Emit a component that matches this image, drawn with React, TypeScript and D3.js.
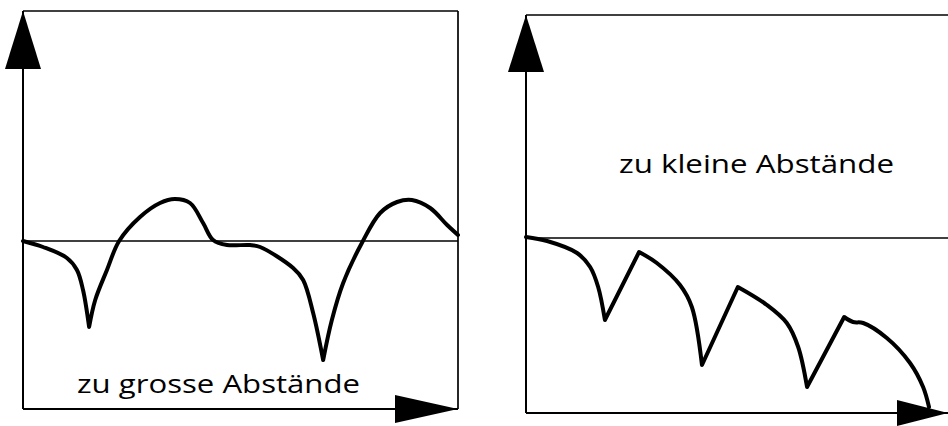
import React from "react";
import * as d3 from "d3";

// ---- data (arbitrary units: x 0..100 per panel, y relative to zero line) ----
// Left panel: "zu grosse Abstände" — smooth segments joined at cusps
const leftSeg1: [number, number][] = [
  [0, 0], [4.6, -0.6], [10.1, -1.7], [12.4, -2.9], [13.8, -4.9], [15.2, -8.6],
];
const leftSeg2: [number, number][] = [
  [15.2, -8.6], [16.6, -5.9], [19.3, -2.9], [22.1, 0], [26.9, 2.4], [31.5, 3.8],
  [34.9, 4.2], [38.4, 3.8], [41.4, 1.8], [43.7, 0.1], [46.9, -0.4], [52.2, -0.4],
  [54.5, -0.6], [62.1, -2.7], [64.4, -3.9], [66.7, -7.2], [69.0, -11.9],
];
const leftSeg3: [number, number][] = [
  [69.0, -11.9], [71.0, -7.9], [73.6, -4.2], [77.9, -0.2], [82.1, 2.8], [86.0, 3.9],
  [89.4, 4.1], [93.6, 3.3], [97.5, 1.6], [100, 0.6],
];
// Right panel: "zu kleine Abstände" — smooth decays joined by straight rises
const rightSegA: [number, number][] = [
  [0, 0.1], [5.0, -0.3], [12.1, -1.5], [15.2, -2.9], [17.1, -4.9], [18.7, -8.2],
];
const rightSegB: [number, number][] = [
  [26.8, -1.4], [31.0, -2.5], [36.5, -4.7], [39.3, -6.9], [41.7, -12.7],
];
const rightSegC: [number, number][] = [
  [50.2, -4.9], [57.1, -6.7], [61.8, -8.5], [64.5, -10.9], [66.6, -14.9],
];
const rightSegD: [number, number][] = [
  [75.4, -7.9], [77.5, -8.4], [79.9, -8.5], [85.5, -10.0], [91.0, -12.5],
  [94.1, -14.9], [95.5, -16.9],
];
const leftLabel = "zu grosse Abstände";
const rightLabel = "zu kleine Abstände";

const FONT = "'Open Sans', 'DejaVu Sans', sans-serif";

function buildPath(segs: [number, number][][], x: any, y: any): string {
  const gen = d3
    .line<[number, number]>()
    .x((d) => x(d[0]))
    .y((d) => y(d[1]))
    .curve(d3.curveCatmullRom.alpha(0.5));
  return segs
    .map((s, i) => {
      const d = gen(s) || "";
      return i === 0 ? d : "L" + d.slice(1);
    })
    .join("");
}

function Panel(props: {
  left: number; right: number; top: number; bottom: number; zero: number;
  segs: [number, number][][]; label: string; labelX: number; labelY: number;
  labelW: number; rightBorder: boolean; upHalf: number; upLen: number;
  rHalf: number; rLen: number;
}) {
  const { left, right, top, bottom, zero, segs, label, labelX, labelY, labelW } = props;
  const x = d3.scaleLinear().domain([0, 100]).range([left, right]);
  const y = d3.scaleLinear().domain([0, -10]).range([zero, zero + 100]);
  const d = buildPath(segs, x, y);
  return (
    <g>
      {/* frame */}
      <line x1={left} y1={top} x2={right} y2={top} stroke="#000" strokeWidth={1.7} />
      {props.rightBorder && (
        <line x1={right} y1={top} x2={right} y2={bottom} stroke="#000" strokeWidth={1.7} />
      )}
      <line x1={left} y1={top} x2={left} y2={bottom} stroke="#000" strokeWidth={2} />
      <line x1={left} y1={bottom} x2={right} y2={bottom} stroke="#000" strokeWidth={2} />
      {/* zero line */}
      <line x1={left} y1={y(0)} x2={right} y2={y(0)} stroke="#000" strokeWidth={1.5} />
      {/* arrows */}
      <path
        d={`M${left},${top}L${left - props.upHalf},${top + props.upLen}L${left + props.upHalf},${top + props.upLen}Z`}
        fill="#000"
      />
      <path
        d={`M${right},${bottom}L${right - props.rLen},${bottom - props.rHalf}L${right - props.rLen},${bottom + props.rHalf}Z`}
        fill="#000"
      />
      {/* curve */}
      <path d={d} fill="none" stroke="#000" strokeWidth={4} strokeLinejoin="round" strokeLinecap="round" />
      <text
        x={labelX}
        y={labelY}
        fontFamily={FONT}
        fontSize={26}
        textLength={labelW}
        lengthAdjust="spacingAndGlyphs"
        fill="#000"
      >
        {label}
      </text>
    </g>
  );
}

export default function App() {
  return (
    <svg
      width={948}
      height={426}
      viewBox="0 0 948 426"
      style={{ position: "absolute", left: 0, top: 0, background: "#fff" }}
    >
      <rect width={948} height={426} fill="#fff" />
      <Panel
        left={23} right={458} top={11} bottom={409} zero={241}
        segs={[leftSeg1, leftSeg2, leftSeg3]}
        label={leftLabel} labelX={77} labelY={393} labelW={283}
        rightBorder={true} upHalf={18} upLen={58} rHalf={14} rLen={63}
      />
      <Panel
        left={526} right={948} top={15} bottom={413} zero={238}
        segs={[rightSegA, rightSegB, rightSegC, rightSegD]}
        label={rightLabel} labelX={619} labelY={173} labelW={275}
        rightBorder={false} upHalf={18} upLen={57} rHalf={13} rLen={51}
      />
    </svg>
  );
}
